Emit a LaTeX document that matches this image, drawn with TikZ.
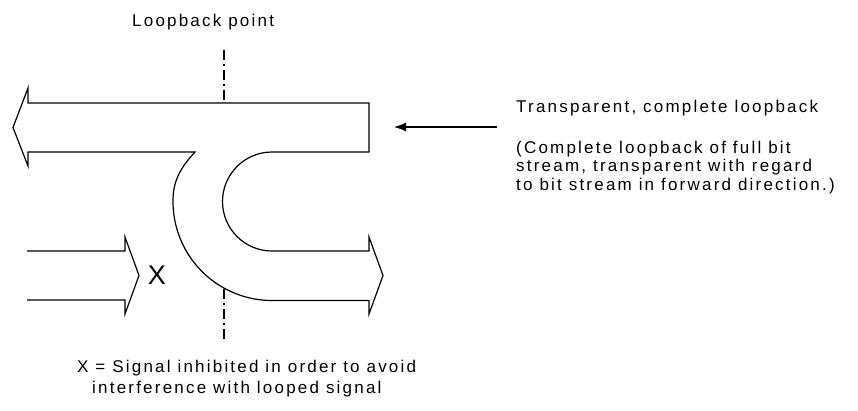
\documentclass[tikz,border=0pt]{standalone}
\usepackage{fontspec}
\setmainfont{Liberation Sans}[LetterSpace=13]
\newfontfamily\markfont{Liberation Sans}
\usetikzlibrary{arrows.meta}
\begin{document}
\begin{tikzpicture}[x=1pt,y=-1pt,
  lbl/.style={font=\fontsize{17}{19}\selectfont, inner sep=0pt, anchor=base west},
  outline/.style={draw=black, line width=1.2pt, line join=miter},
  axisline/.style={line width=1.2pt, dash pattern=on 10pt off 4pt on 2pt off 4pt},
  pointer/.style={line width=1.2pt, -{Latex[length=12pt,width=9pt]}}]
\useasboundingbox (0,0) rectangle (858,410);
% main loopback shape
\draw[outline] (28,103) -- (369,103) -- (369,152) -- (272,152)
  arc[start angle=270,end angle=90,radius=49.5] -- (369,251) -- (369,237)
  -- (383,275.5) -- (369,314) -- (369,300.5) -- (272,300.5)
  arc[start angle=90,end angle=185,radius=99]
  .. controls (175.5,174) and (186,162) .. (195,152) -- (28,152)
  -- (28,166) -- (13,127.5) -- (28,88) -- cycle;
% inhibited incoming arrow
\draw[outline] (27,251) -- (125,251) -- (125,237) -- (139,275.5)
  -- (125,314) -- (125,300) -- (27,300);
% loopback point axis
\draw[axisline] (224,50) -- (224,103);
\draw[axisline] (224,289) -- (224,340);
% pointer
\coordinate (pa) at (497,127);
\coordinate (pb) at (394,127);
\draw[pointer] (pa) -- (pb);
% texts
\node[lbl] (lp) at (132,26) {Loopback point};
\node[lbl] (tr) at (516,112) {Transparent, complete loopback};
\node[lbl] (c1) at (516,153) {(Complete loopback of full bit};
\node[lbl] (c2) at (516,171.5) {stream, transparent with regard};
\node[lbl] (c3) at (516,190) {to bit stream in forward direction.)};
\node[lbl] (l1) at (77,372) {X = Signal inhibited in order to avoid};
\node[lbl] (l2) at (92,393) {interference with looped signal};
\node[font=\markfont\fontsize{27}{30}\selectfont, inner sep=0pt] (xm) at (157,275) {X};
\end{tikzpicture}
\end{document}
